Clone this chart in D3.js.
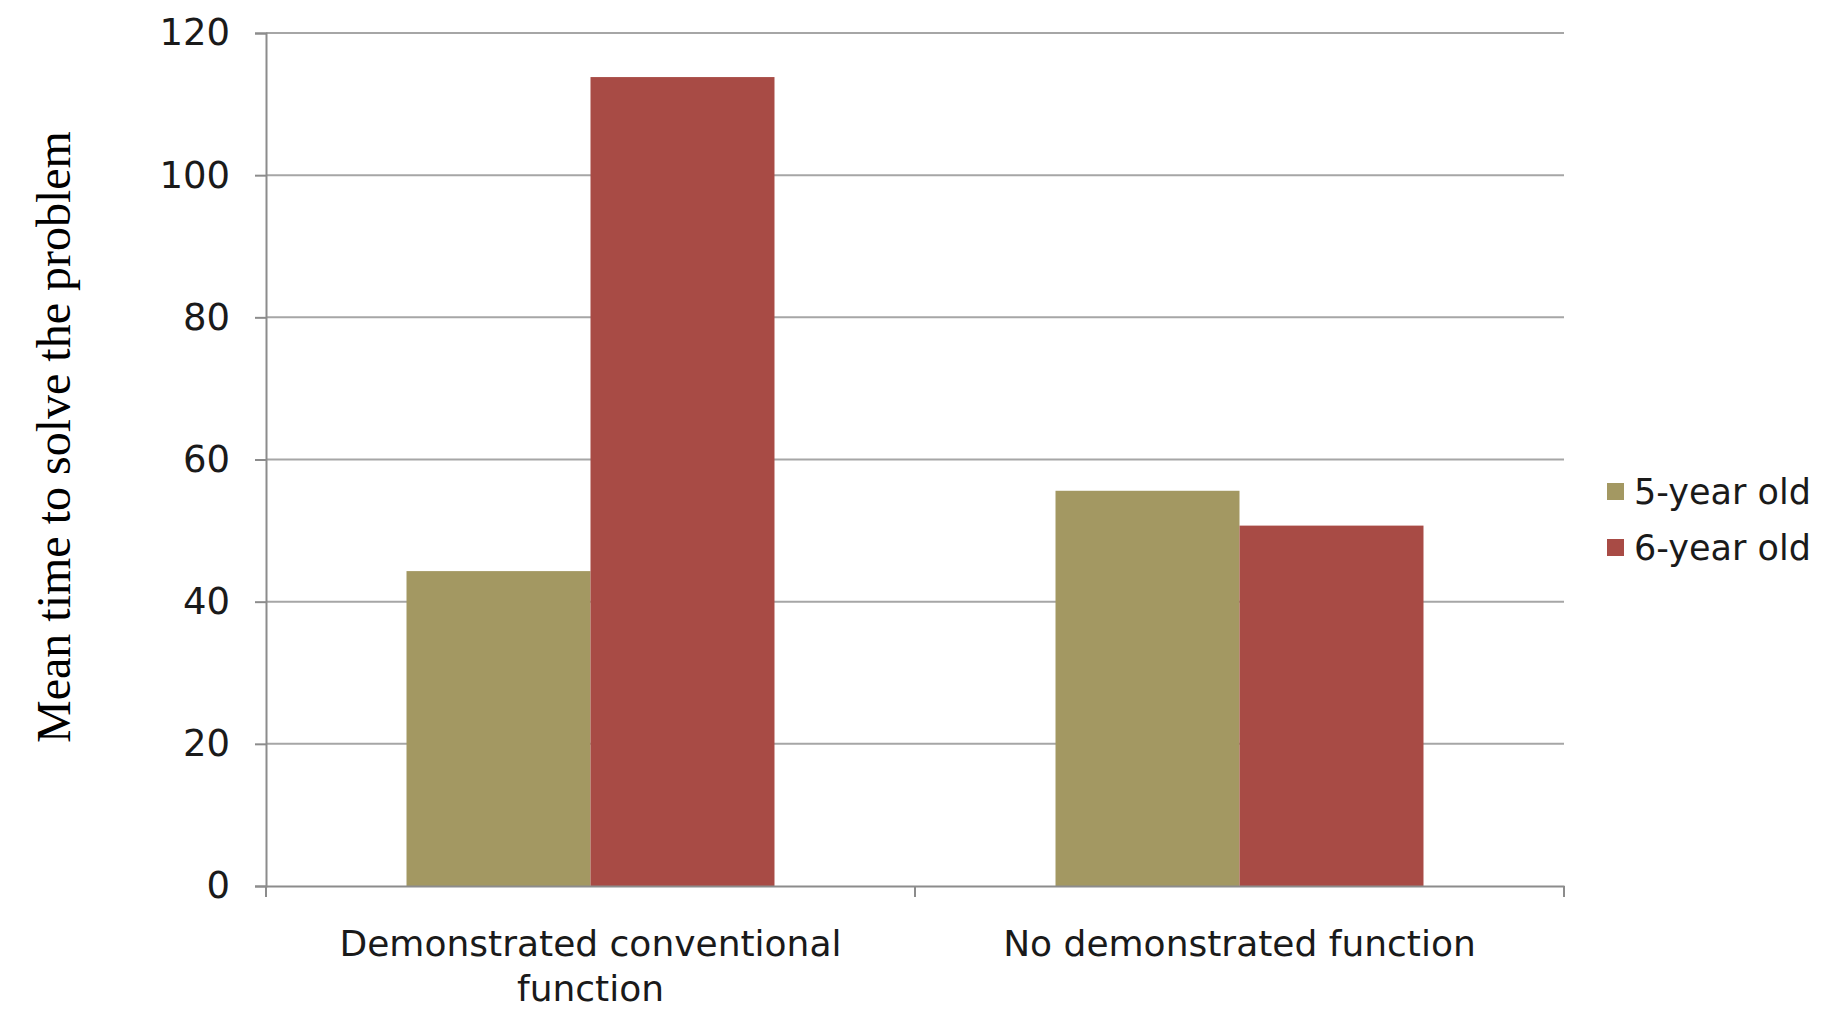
<!DOCTYPE html>
<html>
<head>
  <meta charset="utf-8">
  <style>
    body {
      margin: 0;
      background: #fff;
    }

    .tick text, .cat-label, .legend text {
      font-family: "DejaVu Sans", sans-serif;
      fill: #1a1a1a;
    }

    .y-title {
      font-family: "Liberation Serif", "Times New Roman", serif;
      fill: #000;
    }
  </style>
</head>
<body>
  <div id="chart"></div>
  <script src="https://d3js.org/d3.v7.min.js"></script>
  <script>

    // DATA
    var categories = [
      ['Demonstrated conventional', 'function'],
      ['No demonstrated function']
    ];
    var seriesNames = ['5-year old', '6-year old'];
    var fiveYearOld = [44.3, 55.6];
    var sixYearOld = [113.8, 50.7];
    var yTicks = [0, 20, 40, 60, 80, 100, 120];

    var colors = ['#A39862', '#A84B45'];

    // LAYOUT
    var width = 1829;
    var height = 1011;

    var margin = { top: 33, left: 266, right: 265, bottom: 125 };

    var svg = d3.select('#chart')
      .append('svg')
        .attr('width', width)
        .attr('height', height);

    var catKeys = categories.map(c => c.join(' '));

    var x0 = d3.scaleBand()
      .domain(catKeys)
      .range([margin.left, width - margin.right])
      .padding(0);

    var gap = x0.bandwidth() * 0.2165;

    var x1 = d3.scaleBand()
      .domain(seriesNames)
      .range([gap, x0.bandwidth() - gap])
      .padding(0);

    var y = d3.scaleLinear()
      .domain([0, 120])
      .range([height - margin.bottom, margin.top]);

    // gridlines
    svg.append('g')
      .selectAll('line')
      .data(yTicks.slice(1))
      .enter()
        .append('line')
          .attr('x1', margin.left)
          .attr('x2', width - margin.right)
          .attr('y1', d => y(d))
          .attr('y2', d => y(d))
          .style('stroke', '#a6a6a6')
          .style('stroke-width', 2);

    // bars
    var rows = catKeys.map((k, i) => ({
      key: k,
      values: [fiveYearOld[i], sixYearOld[i]]
    }));

    var group = svg.append('g')
      .selectAll('g')
      .data(rows)
      .enter()
        .append('g')
          .attr('transform', d => `translate(${x0(d.key)},0)`);

    group.selectAll('rect')
      .data(d => d.values.map((v, j) => ({ name: seriesNames[j], value: v, idx: j })))
      .enter()
        .append('rect')
          .attr('x', d => x1(d.name))
          .attr('width', x1.bandwidth())
          .attr('y', d => y(d.value))
          .attr('height', d => y(0) - y(d.value))
          .style('fill', d => colors[d.idx]);

    // y axis
    var yAxis = svg.append('g')
      .attr('transform', `translate(${margin.left},0)`)
      .call(d3.axisLeft(y).tickValues(yTicks).tickSize(11).tickPadding(25));

    yAxis.select('.domain').style('stroke', '#8c8c8c').style('stroke-width', 2);
    yAxis.selectAll('.tick line').style('stroke', '#8c8c8c').style('stroke-width', 2);
    yAxis.selectAll('.tick text').style('font-size', '37px');

    // x axis
    var xAxis = svg.append('g')
      .attr('transform', `translate(0,${y(0)})`)
      .call(d3.axisBottom(x0).tickValues([]).tickSizeOuter(0));

    xAxis.select('.domain').style('stroke', '#8c8c8c').style('stroke-width', 2);

    var xBounds = [margin.left].concat(catKeys.map(k => x0(k) + x0.bandwidth()));
    xAxis.selectAll('.bound')
      .data(xBounds)
      .enter()
        .append('line')
          .attr('class', 'bound')
          .attr('x1', d => d)
          .attr('x2', d => d)
          .attr('y1', 0)
          .attr('y2', 11)
          .style('stroke', '#8c8c8c')
          .style('stroke-width', 2);

    // category labels
    var catText = svg.append('g')
      .selectAll('text')
      .data(categories)
      .enter()
        .append('text')
          .attr('class', 'cat-label')
          .attr('text-anchor', 'middle')
          .attr('x', (d, i) => x0(catKeys[i]) + x0.bandwidth() / 2)
          .attr('y', y(0) + 70)
          .style('font-size', '36px');

    catText.selectAll('tspan')
      .data(d => d)
      .enter()
        .append('tspan')
          .attr('x', function() { return d3.select(this.parentNode).attr('x'); })
          .attr('dy', (d, i) => i === 0 ? 0 : 45)
          .text(d => d);

    // y title
    svg.append('text')
      .attr('class', 'y-title')
      .attr('text-anchor', 'middle')
      .attr('transform', `translate(70,437) rotate(-90)`)
      .style('font-size', '48px')
      .text('Mean time to solve the problem');

    // legend
    var legend = svg.append('g')
      .attr('class', 'legend')
      .attr('transform', 'translate(1607,492)');

    var item = legend.selectAll('g')
      .data(seriesNames)
      .enter()
        .append('g')
          .attr('transform', (d, i) => `translate(0,${i * 56})`);

    item.append('rect')
      .attr('x', 0)
      .attr('y', -9)
      .attr('width', 17)
      .attr('height', 17)
      .style('fill', (d, i) => colors[i]);

    item.append('text')
      .attr('x', 27)
      .attr('dy', '0.35em')
      .style('font-size', '35px')
      .text(d => d);

  </script>
</body>
</html>
